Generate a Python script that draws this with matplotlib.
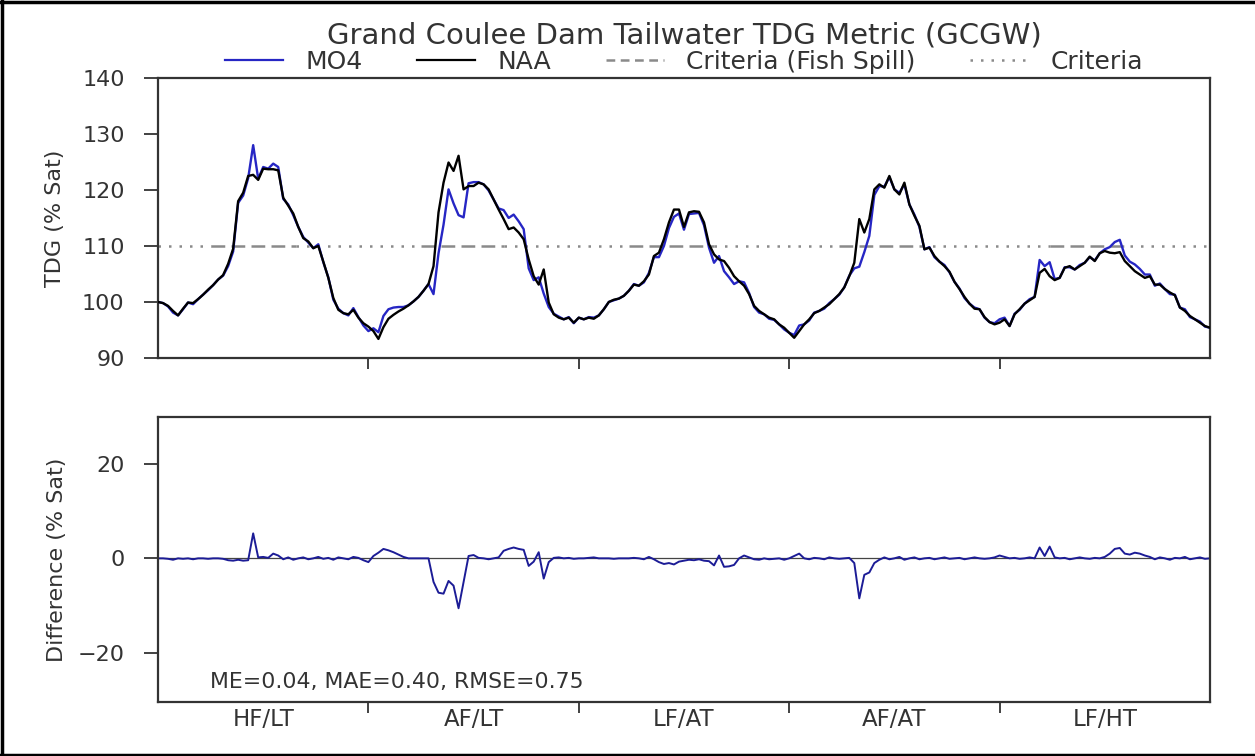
import matplotlib
matplotlib.use("Agg")
import matplotlib.pyplot as plt
from matplotlib.lines import Line2D
import numpy as np

plt.rcParams['font.family'] = ['DejaVu Sans']

# Data, ~every 8.7 days over five model years
naa = [
    100.0, 99.8, 99.3, 98.4, 97.6, 98.8, 99.9, 99.8, 100.5, 101.3,
    102.2, 103.0, 104.0, 104.8, 106.8, 109.5, 118.0, 119.5, 122.5, 122.7,
    121.8, 123.8, 123.7, 123.7, 123.5, 118.6, 117.2, 115.8, 113.4, 111.4,
    110.8, 109.6, 110.0, 107.2, 104.3, 100.7, 98.6, 98.0, 97.8, 98.6,
    97.2, 96.2, 95.6, 94.8, 93.4, 95.5, 97.0, 97.7, 98.3, 98.8,
    99.4, 100.1, 100.9, 102.0, 103.2, 106.4, 116.0, 121.3, 124.9, 123.4,
    126.1, 120.1, 120.7, 120.7, 121.3, 121.0, 120.1, 118.3, 116.5, 114.8,
    113.0, 113.3, 112.4, 111.2, 107.6, 104.6, 103.1, 105.8, 99.9, 97.8,
    97.2, 96.9, 97.2, 96.3, 97.2, 96.9, 97.2, 97.0, 97.6, 98.7,
    100.0, 100.4, 100.6, 101.1, 102.0, 103.1, 102.9, 103.7, 104.9, 108.2,
    108.8, 111.2, 114.2, 116.5, 116.5, 113.4, 116.0, 116.2, 116.1, 114.2,
    110.3, 108.5, 107.6, 107.3, 106.1, 104.6, 103.7, 102.9, 101.4, 99.3,
    98.4, 97.8, 97.2, 96.9, 96.0, 95.4, 94.5, 93.6, 94.8, 96.0,
    96.9, 98.0, 98.4, 99.0, 99.6, 100.5, 101.4, 102.6, 104.6, 107.0,
    114.8, 112.4, 114.8, 120.1, 121.0, 120.4, 122.5, 120.1, 119.2, 121.3,
    117.4, 115.4, 113.6, 109.4, 109.7, 108.2, 107.2, 106.4, 105.4, 103.6,
    102.3, 100.9, 99.7, 98.8, 98.7, 97.3, 96.4, 96.0, 96.3, 96.9,
    95.7, 97.8, 98.7, 99.7, 100.3, 100.9, 105.2, 105.9, 104.6, 103.9,
    104.3, 106.1, 106.4, 105.8, 106.4, 107.0, 108.1, 107.3, 108.7, 109.1,
    108.8, 108.7, 108.9, 107.3, 106.4, 105.5, 104.9, 104.3, 104.6, 103.1,
    103.1, 102.3, 101.7, 101.2, 99.0, 98.4, 97.5, 96.9, 96.3, 95.7,
    95.4,
]

# MO4 - NAA
diff = [
    0.0, 0.0, -0.1, -0.3, 0.0, -0.1, 0.0, -0.2, 0.0, 0.0,
    -0.1, 0.0, 0.0, -0.1, -0.4, -0.5, -0.3, -0.5, -0.4, 5.3,
    0.2, 0.3, 0.1, 1.0, 0.6, -0.2, 0.2, -0.3, 0.0, 0.2,
    -0.2, 0.0, 0.3, -0.1, 0.1, -0.3, 0.2, 0.0, -0.2, 0.3,
    0.1, -0.4, -0.8, 0.5, 1.2, 2.0, 1.7, 1.3, 0.8, 0.3,
    0.0, 0.0, 0.0, 0.0, 0.0, -5.0, -7.3, -7.5, -4.8, -5.8,
    -10.6, -5.0, 0.5, 0.7, 0.1, 0.0, -0.2, 0.0, 0.2, 1.6,
    2.0, 2.3, 2.0, 1.8, -1.6, -0.7, 1.3, -4.3, -0.8, 0.1,
    0.2, 0.0, 0.1, -0.1, 0.0, 0.0, 0.1, 0.2, 0.0, 0.0,
    0.0, -0.1, 0.0, 0.0, 0.0, 0.1, 0.0, -0.2, 0.3, -0.2,
    -0.8, -1.2, -1.0, -1.3, -0.7, -0.5, -0.3, -0.4, -0.2, -0.5,
    -0.6, -1.5, 0.6, -1.8, -1.7, -1.4, 0.0, 0.6, 0.2, -0.2,
    -0.3, 0.0, -0.2, -0.1, 0.0, -0.3, 0.0, 0.5, 1.0, 0.0,
    -0.2, 0.1, 0.0, -0.2, 0.2, 0.0, -0.1, 0.0, 0.1, -1.0,
    -8.5, -3.5, -3.0, -1.0, -0.3, 0.2, -0.2, 0.0, 0.3, -0.3,
    0.0, 0.2, -0.2, 0.0, 0.1, -0.2, 0.0, 0.2, -0.1, 0.0,
    0.1, -0.2, 0.0, 0.2, 0.0, -0.1, 0.0, 0.2, 0.6, 0.3,
    0.0, 0.1, -0.1, 0.0, 0.2, 0.0, 2.3, 0.5, 2.5, 0.2,
    0.0, 0.1, -0.2, 0.0, 0.2, 0.0, -0.1, 0.1, 0.0, 0.3,
    1.0, 2.0, 2.2, 1.0, 0.8, 1.2, 1.0, 0.6, 0.3, -0.2,
    0.2, 0.0, -0.3, 0.1, 0.0, 0.3, -0.2, 0.0, 0.2, -0.1,
    0.0,
]

year_labels = ["HF/LT", "AF/LT", "LF/AT", "AF/AT", "LF/HT"]
samples_per_year = 42
# fish spill season windows (sample index)
spill_windows = [(10.5, 27.5), (52.5, 69.0), (94.0, 111.0), (136.0, 152.5), (178.0, 194.0)]
criteria = 110
stats_text = "ME=0.04, MAE=0.40, RMSE=0.75"

naa = np.array(naa)
diff = np.array(diff)
mo4 = naa + diff
x = np.arange(len(naa))
n_years = len(year_labels)
xmax = samples_per_year * n_years

blue = '#2626c4'
grey = '#8a8a8a'
txt = '#333333'

fig = plt.figure(figsize=(12.55, 7.56), dpi=100)
ax1 = fig.add_axes([0.1259, 0.5265, 0.8382, 0.3704])
ax2 = fig.add_axes([0.1259, 0.0714, 0.8382, 0.3770])

# criteria lines: dashed inside the fish spill season, dotted outside
edges = [0.0]
for a, b in spill_windows:
    ax1.plot([a, b], [criteria, criteria], color=grey, lw=1.8, dashes=(5.5, 2.5), zorder=1)
    edges += [a, b]
edges.append(xmax)
for i in range(0, len(edges), 2):
    ax1.plot([edges[i], edges[i + 1]], [criteria, criteria], color=grey, lw=1.8,
             dashes=(1, 3.2), zorder=1)

ax1.plot(x, mo4, color=blue, lw=1.7, zorder=2)
ax1.plot(x, naa, color='black', lw=1.7, zorder=3)

ax2.axhline(0, color='#444444', lw=0.9, zorder=1)
ax2.plot(x, mo4 - naa, color='#1c1c96', lw=1.4, zorder=2)

bounds = [samples_per_year * i for i in range(1, n_years)]
centers = [samples_per_year * (i + 0.5) for i in range(n_years)]

for ax in (ax1, ax2):
    ax.set_xlim(0, xmax)
    ax.set_xticks(bounds)
    ax.set_xticklabels([])
    ax.tick_params(axis='both', direction='out', length=8, width=1.3, colors=txt)
    ax.tick_params(axis='y', length=10, labelsize=16, pad=14)
    for s in ax.spines.values():
        s.set_color('#333333')
        s.set_linewidth(1.6)

ax1.set_ylim(90, 140)
ax1.set_yticks([90, 100, 110, 120, 130, 140])
ax1.set_ylabel("TDG (% Sat)", fontsize=16, color=txt, labelpad=12)

ax2.set_ylim(-30.5, 30)
ax2.set_yticks([-20, 0, 20])
ax2.set_yticklabels(["\u221220", "0", "20"])
ax2.set_ylabel("Difference (% Sat)", fontsize=16, color=txt, labelpad=8)
ax2.set_xticks(centers, minor=True)
ax2.set_xticklabels(year_labels, minor=True)
ax2.tick_params(axis='x', which='minor', length=0, labelsize=16.5, colors=txt, pad=4)
ax2.text(0.049, 0.05, stats_text, transform=ax2.transAxes, fontsize=15.8, color=txt)

handles = [
    Line2D([], [], color=blue, lw=1.6),
    Line2D([], [], color='black', lw=1.6),
    Line2D([], [], color=grey, lw=1.8, dashes=(3.5, 2.2)),
    Line2D([], [], color=grey, lw=1.8, dashes=(1, 3.2)),
]
ax1.legend(handles, ["MO4", "NAA", "Criteria (Fish Spill)", "Criteria"], ncol=4,
           loc='center', bbox_to_anchor=(0.5, 1.057), frameon=False,
           fontsize=18, handlelength=2.3, handletextpad=0.9, columnspacing=2.2,
           borderaxespad=0, borderpad=0, labelcolor=txt)

fig.text(0.545, 0.953, "Grand Coulee Dam Tailwater TDG Metric (GCGW)", ha='center',
         va='center', fontsize=21, color=txt)

# figure frame (left, top, bottom edges)
frame = dict(transform=fig.transFigure, color='black', lw=2.5)
fig.add_artist(Line2D([0.0015, 0.0015], [0, 1], **frame))
fig.add_artist(Line2D([0, 1], [0.9975, 0.9975], **frame))
fig.add_artist(Line2D([0, 1], [0.0015, 0.0015], **frame))

fig.savefig("out.png", dpi=100)
